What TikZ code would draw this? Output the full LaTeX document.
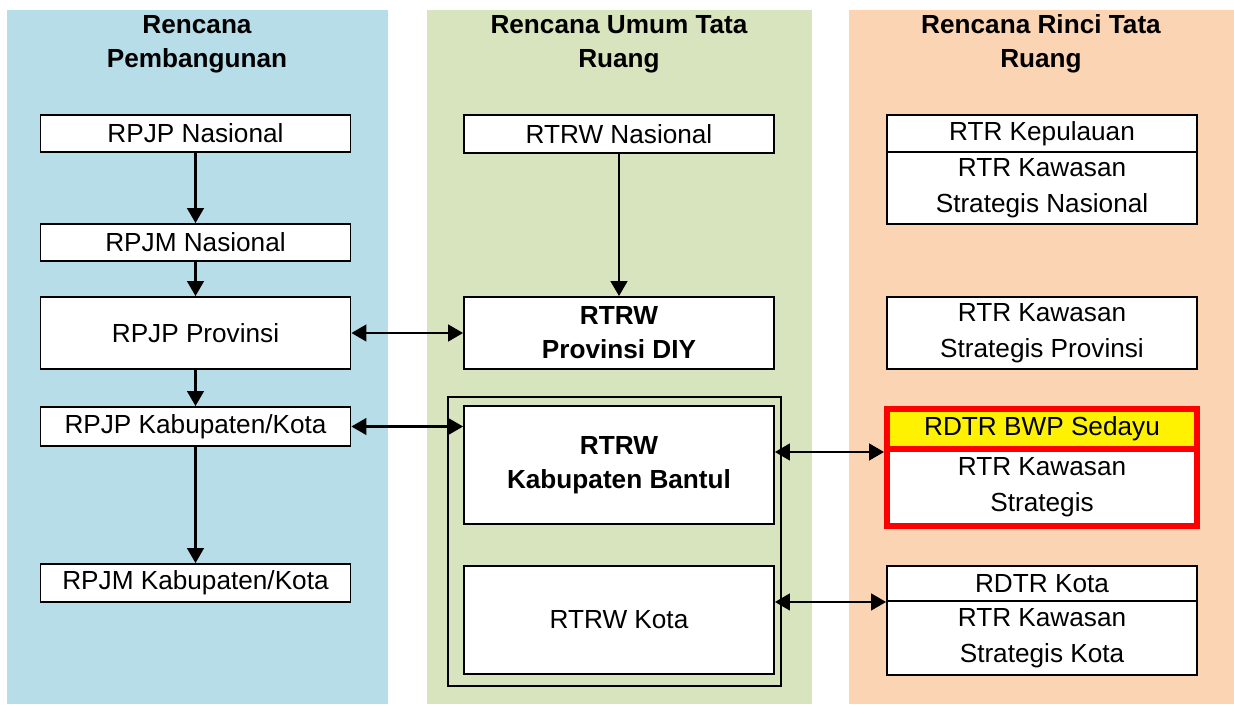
\documentclass[tikz,border=0pt]{standalone}
\usepackage{fontspec}
\setmainfont{Liberation Sans}
\usetikzlibrary{arrows.meta}
\definecolor{colblue}{HTML}{B7DDE8}
\definecolor{colgreen}{HTML}{D7E4BD}
\definecolor{colpeach}{HTML}{FBD4B4}
\begin{document}
\begin{tikzpicture}[x=0.02cm,y=-0.02cm,
planbox/.style={draw,fill=white,line width=1.1pt,minimum width=6.2cm,inner sep=0pt,align=center,
  font=\fontsize{14.9pt}{20.4pt}\selectfont},
redbox/.style={planbox,draw=red,line width=3.4pt},
header/.style={align=center,font=\fontsize{14.9pt}{19.3pt}\selectfont\bfseries},
link/.style={line width=1.2pt,-{Triangle[length=8.5pt,width=9.5pt]}},
dlink/.style={line width=1.2pt,{Triangle[length=8.5pt,width=9.5pt]}-{Triangle[length=8.5pt,width=9.5pt]}}]
\useasboundingbox (0,0) rectangle (1234,704);
% background columns
\fill[colblue] (7,10) rectangle (388,704);
\fill[colgreen] (427,10) rectangle (812,704);
\fill[colpeach] (849,10) rectangle (1234,704);
\node[header] (hpemb) at (197,44) {Rencana\\Pembangunan};
\node[header] (humum) at (619,44) {Rencana Umum Tata\\Ruang};
\node[header] (hrinci) at (1041,44) {Rencana Rinci Tata\\Ruang};

% rencana pembangunan
\node[planbox,minimum height=0.74cm] (rpjpnas) at (195.5,133.5) {RPJP Nasional};
\node[planbox,minimum height=0.74cm] (rpjmnas) at (195.5,242.5) {RPJM Nasional};
\node[planbox,minimum height=1.44cm] (rpjpprov) at (195.5,333) {RPJP Provinsi};
\node[planbox,minimum height=0.78cm] (rpjpkab) at (195.5,426.5) {RPJP Kabupaten/Kota};
\node[planbox,minimum height=0.76cm] (rpjmkab) at (195.5,583) {RPJM Kabupaten/Kota};
\draw[link] (rpjpnas) -- (rpjmnas);
\draw[link] (rpjmnas) -- (rpjpprov);
\draw[link] (rpjpprov) -- (rpjpkab);
\draw[link] (rpjpkab) -- (rpjmkab);

% rencana umum tata ruang
\node[planbox,minimum height=0.76cm] (rtrwnas) at (619,134) {RTRW Nasional};
\node[planbox,minimum height=1.44cm,font=\fontsize{14.9pt}{19.3pt}\selectfont\bfseries] (rtrwprov) at (619,333) {RTRW\\Provinsi DIY};
\draw[line width=1.1pt] (448,397) rectangle (781,686);
\node[planbox,minimum height=2.36cm,font=\fontsize{14.9pt}{19.3pt}\selectfont\bfseries] (rtrwkab) at (619,465) {RTRW\\Kabupaten Bantul};
\node[planbox,minimum height=2.16cm] (rtrwkota) at (619,620) {RTRW Kota};
\draw[link] (rtrwnas) -- (rtrwprov);

% rencana rinci tata ruang
\node[planbox,minimum height=0.74cm] (kepulauan) at (1042,133.5) {RTR Kepulauan};
\node[planbox,minimum height=1.44cm] (ksnas) at (1042,188) {RTR Kawasan\\Strategis Nasional};
\node[planbox,minimum height=1.44cm] (ksprov) at (1042,333) {RTR Kawasan\\Strategis Provinsi};
\node[redbox,fill=yellow,minimum height=0.8cm] (sedayu) at (1042,429) {RDTR BWP Sedayu};
\node[redbox,minimum height=1.54cm] (kstrat) at (1042,487.5) {RTR Kawasan\\Strategis};
\node[planbox,minimum height=0.7cm] (rdtrkota) at (1042,583.5) {RDTR Kota};
\node[planbox,minimum height=1.48cm] (kskota) at (1042,638) {RTR Kawasan\\Strategis Kota};

% hubungan antar rencana
\draw[dlink] (rpjpprov) -- (rtrwprov);
\draw[dlink] (rpjpkab.east) -- (rpjpkab.east -| rtrwkab.west);
\draw[dlink] (rtrwkab.east |- sedayu.south) -- (sedayu.south west);
\draw[dlink] (rtrwkota.east |- rdtrkota.south) -- (rdtrkota.south west);
\end{tikzpicture}
\end{document}
